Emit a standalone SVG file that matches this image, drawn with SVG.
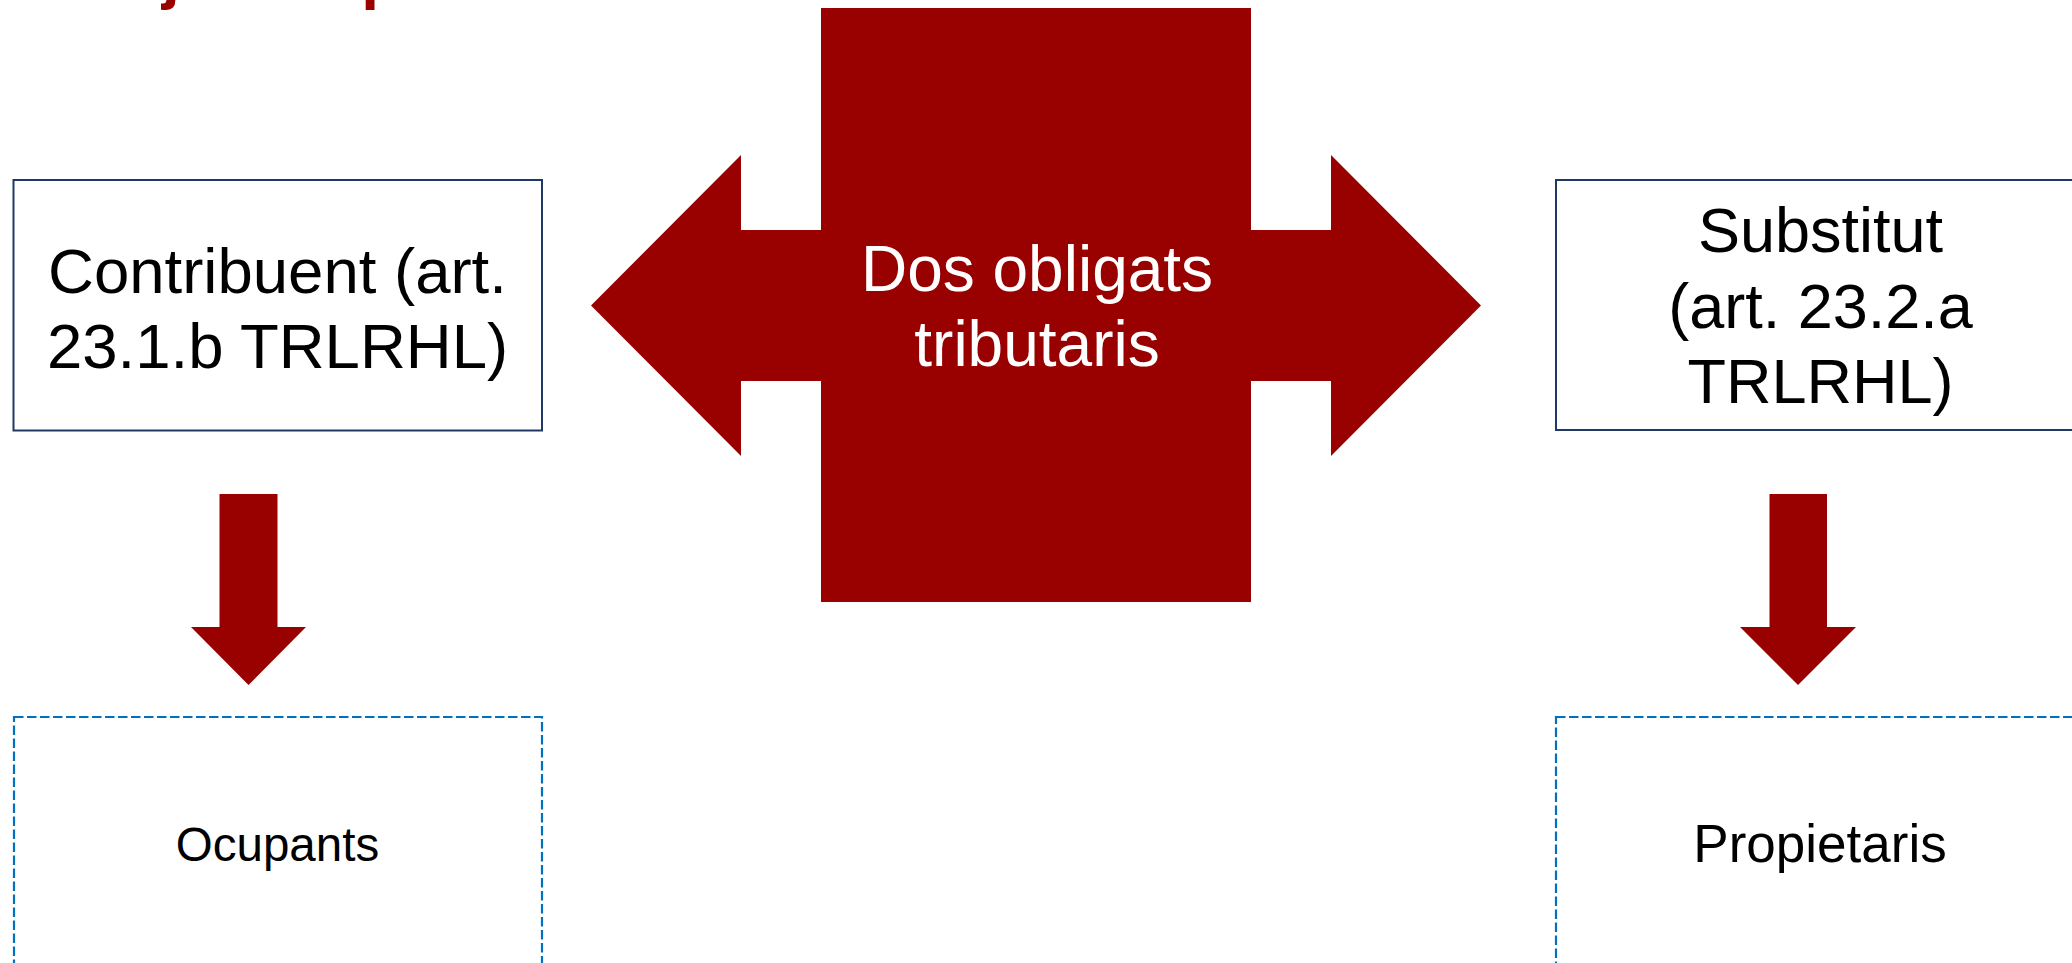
<svg xmlns="http://www.w3.org/2000/svg" width="2072" height="963" viewBox="0 0 2072 963">
<style>
.box{fill:#ffffff;stroke:#1F3864;stroke-width:2}
.dash{fill:#ffffff;stroke:#0070C0;stroke-width:2.2;stroke-dasharray:9.5 3.5}
.red{fill:#990000}
.t{font-family:"Liberation Sans",Arial,sans-serif;fill:#000000;text-anchor:middle}
.w{font-family:"Liberation Sans",Arial,sans-serif;fill:#ffffff;text-anchor:middle}
.title{font-family:"Liberation Sans",Arial,sans-serif;font-weight:bold;fill:#990000}
</style>
<rect width="2072" height="963" fill="#ffffff"/>
<text class="title" x="41" y="-3" font-size="64">Subjectes passius</text>
<g id="center">
<rect class="red" x="821" y="8" width="430" height="594"/>
</g>
<g id="connectors">
<polygon class="red" points="591,305.5 741,155 741,230 1331,230 1331,155 1481,305.5 1331,456 1331,381 741,381 741,456"/>
<polygon class="red" points="219.5,494 277.5,494 277.5,627 306,627 248.5,685 191,627 219.5,627"/>
<polygon class="red" points="1769.5,494 1827,494 1827,627 1856,627 1798,685 1740,627 1769.5,627"/>
</g>
<g id="center-label">
<text class="w" x="1037" y="291" font-size="64">Dos obligats</text>
<text class="w" x="1037" y="366" font-size="64">tributaris</text>
</g>
<g id="contribuent">
<rect class="box" x="13.5" y="180" width="528.5" height="250.5"/>
<text class="t" x="277.5" y="293" font-size="63.5">Contribuent (art.</text>
<text class="t" x="277.5" y="368" font-size="63.5">23.1.b TRLRHL)</text>
</g>
<g id="substitut">
<rect class="box" x="1556" y="180" width="529" height="250"/>
<text class="t" x="1820.5" y="252" font-size="63">Substitut</text>
<text class="t" x="1820.5" y="328" font-size="63">(art. 23.2.a</text>
<text class="t" x="1820.5" y="403" font-size="63">TRLRHL)</text>
</g>
<g id="ocupants">
<rect class="dash" x="14" y="717" width="528" height="300"/>
<text class="t" x="277.5" y="861" font-size="47.5">Ocupants</text>
</g>
<g id="propietaris">
<rect class="dash" x="1556" y="717" width="529" height="300"/>
<text class="t" x="1820" y="862" font-size="53">Propietaris</text>
</g>
</svg>
